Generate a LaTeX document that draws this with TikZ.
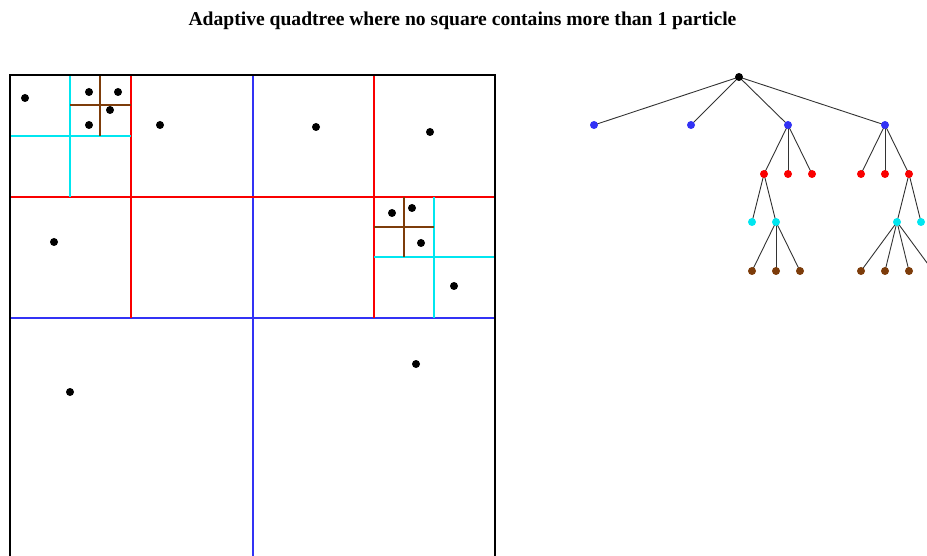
\documentclass[tikz,border=0pt]{standalone}
\usepackage{fontspec}
\setmainfont{Liberation Serif}
\usetikzlibrary{backgrounds}
\definecolor{qbrown}{RGB}{125,60,10}
\definecolor{qcyan}{RGB}{0,230,240}
\definecolor{qblue}{RGB}{50,50,245}
\definecolor{qred}{RGB}{250,0,0}
\tikzset{
  particle/.style={circle, fill=black, inner sep=0pt, minimum size=8pt},
  tnode/.style={circle, inner sep=0pt, minimum size=8pt},
  tedge/.style={black!80, line width=0.9pt},
}
\begin{document}
\begin{tikzpicture}[x=1pt, y=-1pt]
    \useasboundingbox (0,0) rectangle (927,556);
    \node[font=\bfseries\fontsize{19.6}{22}\selectfont] (title) at (462.5,21) {Adaptive quadtree where no square contains more than 1 particle};

    % Niveau 1 (blauw)
    \draw[qblue, line width=1.3pt] (253,75) -- (253,556);
    \draw[qblue, line width=1.3pt] (10,318) -- (495,318);

    % Niveau 2 (rood)
    \draw[qred, line width=2.4pt] (10,197) -- (495,197);
    \draw[qred, line width=2.4pt] (131,75) -- (131,318);
    \draw[qred, line width=2.4pt] (374,75) -- (374,318);

    % Niveau 3 (cyaan)
    \draw[qcyan, line width=2.4pt] (70,75) -- (70,197);
    \draw[qcyan, line width=2.4pt] (10,136) -- (131,136);
    \draw[qcyan, line width=2.4pt] (434,197) -- (434,318);
    \draw[qcyan, line width=2.4pt] (374,257) -- (495,257);

    % Niveau 4 (bruin)
    \draw[qbrown, line width=2.4pt] (100,75) -- (100,136);
    \draw[qbrown, line width=2.4pt] (70,105) -- (131,105);
    \draw[qbrown, line width=2.4pt] (404,197) -- (404,257);
    \draw[qbrown, line width=2.4pt] (374,227) -- (434,227);

    % Rand
    \draw[line width=2.4pt] (10,556) -- (10,75) -- (495,75) -- (495,556);

    % Deeltjes
    \foreach \px/\py [count=\i] in {25/98, 89/92, 118/92, 110/110, 89/125, 160/125, 316/127, 430/132,
        54/242, 392/213, 412/208, 421/243, 454/286, 416/364, 70/392}
        \node[particle] (p\i) at (\px,\py) {};

    % Boom
    \node[tnode, fill=black] (root) at (739,77) {};
    \node[tnode, fill=qblue] (b1) at (594,125) {};
    \node[tnode, fill=qblue] (b2) at (691,125) {};
    \node[tnode, fill=qblue] (b3) at (788,125) {};
    \node[tnode, fill=qblue] (b4) at (885,125) {};
    \node[tnode, fill=qred] (r1) at (764,174) {};
    \node[tnode, fill=qred] (r2) at (788,174) {};
    \node[tnode, fill=qred] (r3) at (812,174) {};
    \node[tnode, fill=qred] (r4) at (861,174) {};
    \node[tnode, fill=qred] (r5) at (885,174) {};
    \node[tnode, fill=qred] (r6) at (909,174) {};
    \node[tnode, fill=qcyan] (c1) at (752,222) {};
    \node[tnode, fill=qcyan] (c2) at (776,222) {};
    \node[tnode, fill=qcyan] (c3) at (897,222) {};
    \node[tnode, fill=qcyan] (c4) at (921,222) {};
    \node[tnode, fill=qbrown] (n1) at (752,271) {};
    \node[tnode, fill=qbrown] (n2) at (776,271) {};
    \node[tnode, fill=qbrown] (n3) at (800,271) {};
    \node[tnode, fill=qbrown] (n4) at (861,271) {};
    \node[tnode, fill=qbrown] (n5) at (885,271) {};
    \node[tnode, fill=qbrown] (n6) at (909,271) {};
    \node[tnode, fill=qbrown] (n7) at (933,271) {};

    % Takken achter de knopen
    \begin{scope}[on background layer]
        \foreach \a/\b in {root/b1, root/b2, root/b3, root/b4,
            b3/r1, b3/r2, b3/r3, b4/r4, b4/r5, b4/r6,
            r1/c1, r1/c2, r6/c3, r6/c4,
            c2/n1, c2/n2, c2/n3, c3/n4, c3/n5, c3/n6, c3/n7}
            \draw[tedge] (\a.center) -- (\b.center);
    \end{scope}
\end{tikzpicture}
\end{document}
